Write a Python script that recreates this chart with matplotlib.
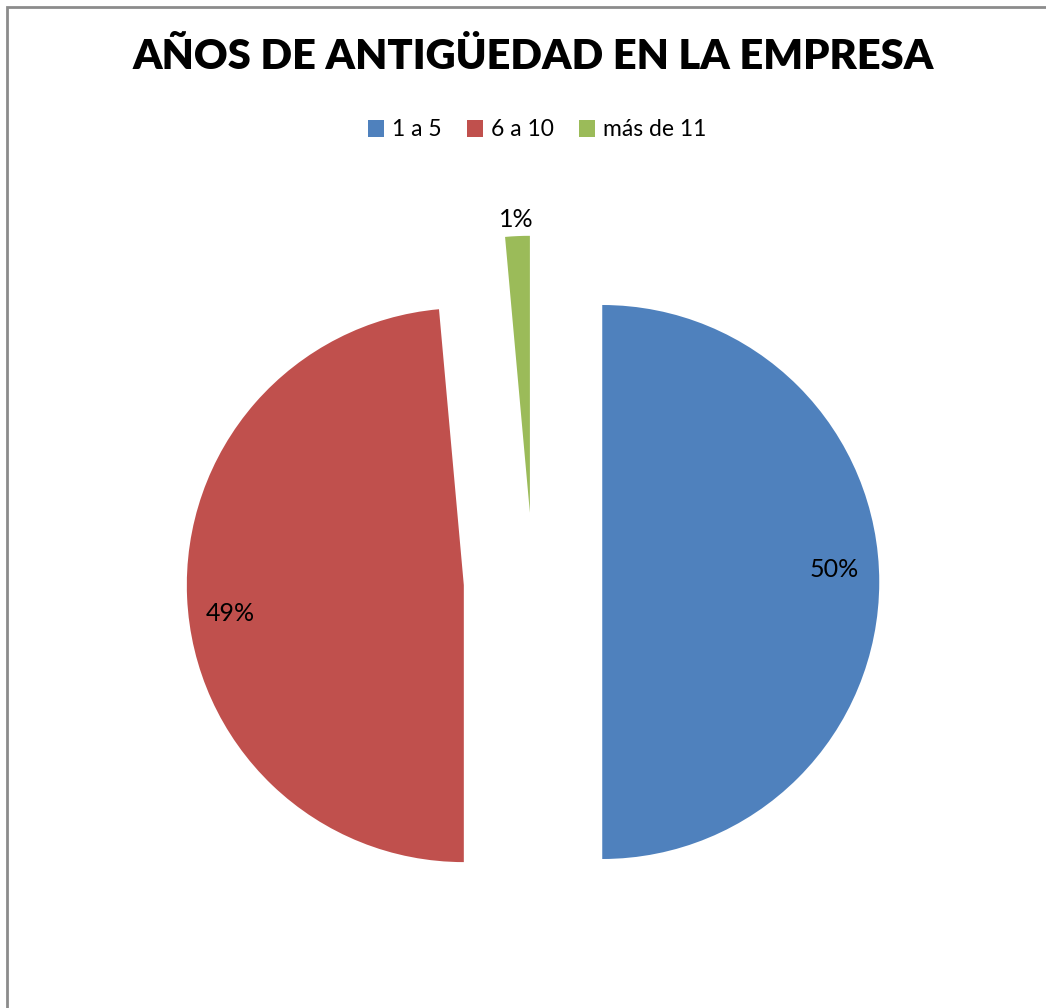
import numpy as np
import matplotlib
matplotlib.use("Agg")
import matplotlib.pyplot as plt
from matplotlib.patches import Rectangle, Patch

categories = ["1 a 5", "6 a 10", "más de 11"]
values = [35, 34, 1]
pct_labels = ["50%", "49%", "1%"]
title = "AÑOS DE ANTIGÜEDAD EN LA EMPRESA"

colors = ["#4F81BD", "#C0504D", "#9BBB59"]
label_r = [0.84, 0.85, 1.06]
label_dang = [3.0, 4.3, 0.0]

plt.rcParams['font.family'] = ['Lato', 'DejaVu Sans']

W, H = 1046, 1008
fig = plt.figure(figsize=(W / 100, H / 100), dpi=100)
ax = fig.add_axes([0, 0, 1, 1])
ax.set_xlim(0, W)
ax.set_ylim(0, H)
ax.set_aspect('equal')
ax.axis('off')

# chart border (left/top visible)
ax.add_patch(Rectangle((7, -20), W + 40, H - 7 + 20, fill=False,
                       edgecolor="#8c8c8c", linewidth=2))

cx, cy, R = 533, H - 582, 277
expl = 0.25 * R
wedges, _ = ax.pie(values, colors=colors, startangle=90, counterclock=False,
                   explode=[expl] * len(values), radius=R, center=(cx, cy),
                   wedgeprops=dict(linewidth=0))
ax.set_xlim(0, W)
ax.set_ylim(0, H)

for w, lab, rf, da in zip(wedges, pct_labels, label_r, label_dang):
    mid = (w.theta1 + w.theta2) / 2 + da
    wx, wy = w.center
    x = wx + rf * R * np.cos(np.radians(mid))
    y = wy + rf * R * np.sin(np.radians(mid))
    ax.text(x, y, lab, ha='center', va='center', fontsize=18, color='black')

ax.text(cx, H - 57, title, ha='center', va='center', fontsize=30,
        fontweight='heavy', color='black')

handles = [Patch(facecolor=c, edgecolor='none') for c in colors]
fig.legend(handles, categories, loc='center', bbox_to_anchor=(537.5 / W, 1 - 130 / H),
           ncol=3, frameon=False, fontsize=16.5, handlelength=0.7, handleheight=0.7,
           handletextpad=0.35, columnspacing=1.1)

fig.savefig("out.png", dpi=100)
